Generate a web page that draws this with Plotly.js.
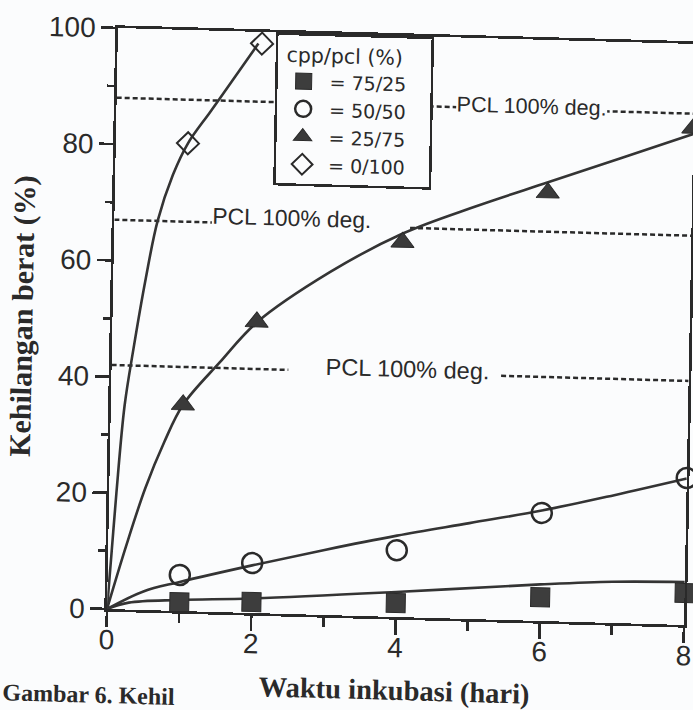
<!DOCTYPE html>
<html>
<head>
<meta charset="utf-8">
<script src="https://cdn.plot.ly/plotly-3.0.1.min.js"></script>
<style>
  html, body { margin: 0; padding: 0; background: #fbfcfd; overflow: hidden; }
  #chart { width: 693px; height: 710px;
           transform-origin: 107px 609px;
           transform: matrix(1, 0.0277, -0.0189, 1, 0, 0); }
</style>
</head>
<body>
<div id="chart"></div>
<script>
// Incubation days at which weight loss was measured
const days = [1, 2, 4, 6, 8];
const daysPcl = [1, 2];

// Weight loss (%) per cpp/pcl blend
const loss75 = [1.5, 1.9, 2.4, 4.1, 5.5];     // 75/25
const loss50 = [6.2, 8.6, 11.5, 18.6, 25.3];  // 50/50
const loss25 = [35.5, 50.1, 64.5, 73.7, 85.5]; // 25/75
const loss0 = [80.5, 98];                     // 0/100

// Hand-drawn trend curves through each series
const fitX75 = [0, 0.3, 1, 2, 4, 6, 7, 8];
const fitY75 = [0, 1.2, 1.9, 2.5, 4.3, 6.3, 7.1, 7.4];
const fitX50 = [0, 0.5, 1, 2, 3, 4, 5, 6, 7, 8];
const fitY50 = [0, 3.2, 5.0, 8.2, 11.2, 14.0, 16.5, 19.0, 22.0, 25.2];
const fitX25 = [0, 0.25, 0.5, 0.75, 1, 1.5, 2, 3, 4, 5, 6, 7, 8];
const fitY25 = [0, 11, 21, 29, 35.5, 43, 50, 59, 66, 71, 75.5, 80, 84.5];
const fitX0 = [0, 0.05, 0.1, 0.19, 0.3, 0.45, 0.6, 0.8, 1, 1.3, 1.6, 1.95];
const fitY0 = [0, 10, 20, 35, 45, 57, 67, 75, 80.5, 86, 91.5, 98];

// "PCL 100% deg." reference levels, drawn as dashed segments
const pclLevel = [88, 67, 67, 42, 42];
const pclFrom = [0, 0, 4.1, 0, 5.4];
const pclTo = [8, 1.4, 8, 2.45, 8];
const pclLabelX = [5.75, 2.46, 4.1];
const pclLabelY = [88.4, 68.2, 42.6];
const pclLabelSize = [21.5, 22.8, 23.5];
const pclText = 'PCL 100% deg.';

// Legend labels
const legendTitle = '\u00a0cpp/pcl (%)\u00a0\u00a0\u00a0\u00a0';
const blendNames = ['= 75/25', '= 50/50', '= 25/75', '= 0/100'];

const ink = '#2a2a2a';
const lineInk = '#343434';
const bg = '#fbfcfd';
const sans = 'Liberation Sans, Arial, sans-serif';
const serif = 'Liberation Serif, Times New Roman, serif';
const legendFont = 'DejaVu Sans, sans-serif';

function fitTrace(x, y) {
  return { x: x, y: y, mode: 'lines', showlegend: false, hoverinfo: 'skip',
           line: { color: lineInk, width: 2.6, shape: 'spline', smoothing: 1 },
           cliponaxis: false };
}

const traces = [
  fitTrace(fitX75, fitY75),
  fitTrace(fitX50, fitY50),
  fitTrace(fitX25, fitY25),
  fitTrace(fitX0, fitY0),
  { x: days, y: loss75, name: blendNames[0], mode: 'markers', cliponaxis: false,
    marker: { symbol: 'square', size: 19, color: '#3d3d3d', line: { color: ink, width: 1 } } },
  { x: days, y: loss50, name: blendNames[1], mode: 'markers', cliponaxis: false,
    marker: { symbol: 'circle-open', size: 20, color: ink, line: { color: ink, width: 2.5 } } },
  { x: days, y: loss25, name: blendNames[2], mode: 'markers', cliponaxis: false,
    marker: { symbol: 'triangle-up', size: 20, color: '#3a3a3a', line: { color: ink, width: 1 } } },
  { x: daysPcl, y: loss0, name: blendNames[3], mode: 'markers', cliponaxis: false,
    marker: { symbol: 'diamond-open', size: 17, color: ink, line: { color: ink, width: 2 } } }
];

const shapes = pclLevel.map((lv, i) => ({
  type: 'line', xref: 'x', yref: 'y', layer: 'below',
  x0: pclFrom[i], x1: pclTo[i], y0: lv, y1: lv,
  line: { color: ink, width: 2.5, dash: '5px,3px' }
}));

const annotations = pclLabelX.map((x, i) => ({
  x: x, y: pclLabelY[i], xref: 'x', yref: 'y', text: pclText, showarrow: false,
  font: { family: sans, size: pclLabelSize[i], color: ink },
  bgcolor: bg, borderpad: 0
}));
// Figure caption under the chart
annotations.push({
  x: -0.182, y: -0.1735, xref: 'paper', yref: 'paper', xanchor: 'left', yanchor: 'bottom',
  text: '<b>Gambar 6. Kehil</b>', showarrow: false,
  font: { family: serif, size: 24, color: ink }
});

const layout = {
  width: 693, height: 710,
  margin: { l: 107, r: 9, t: 28, b: 101 },
  paper_bgcolor: bg, plot_bgcolor: bg,
  showlegend: true,
  font: { family: sans, color: ink },
  xaxis: {
    range: [0, 8], dtick: 2, tick0: 0,
    showgrid: false, zeroline: false,
    showline: true, linecolor: ink, linewidth: 2.7, mirror: true,
    ticks: 'outside', ticklen: 15, tickwidth: 2.7, tickcolor: ink,
    minor: { dtick: 1, ticks: 'outside', ticklen: 9, tickwidth: 2.7, tickcolor: ink },
    ticklabelstandoff: -11,
    tickfont: { size: 28, color: ink },
    title: { text: '<b>Waktu inkubasi (hari)</b>', standoff: 18,
             font: { family: serif, size: 28.5, color: ink } }
  },
  yaxis: {
    range: [0, 100], dtick: 20, tick0: 0,
    showgrid: false, zeroline: false,
    showline: true, linecolor: ink, linewidth: 2.7, mirror: true,
    ticks: 'outside', ticklen: 14, tickwidth: 2.7, tickcolor: ink,
    minor: { dtick: 10, ticks: 'outside', ticklen: 7, tickwidth: 2.7, tickcolor: ink },
    tickfont: { size: 28, color: ink },
    title: { text: '<b>Kehilangan berat (%)</b>', standoff: 8,
             font: { family: serif, size: 30, color: ink } }
  },
  legend: {
    x: 0.274, y: 1.0, xanchor: 'left', yanchor: 'top',
    bgcolor: bg, bordercolor: ink, borderwidth: 2.5,
    itemwidth: 42,
    font: { family: legendFont, size: 19, color: ink },
    title: { text: legendTitle, font: { family: legendFont, size: 20.5, color: ink } }
  },
  shapes: shapes,
  annotations: annotations
};

Plotly.newPlot('chart', traces, layout, { displayModeBar: false, staticPlot: true });
</script>
</body>
</html>
